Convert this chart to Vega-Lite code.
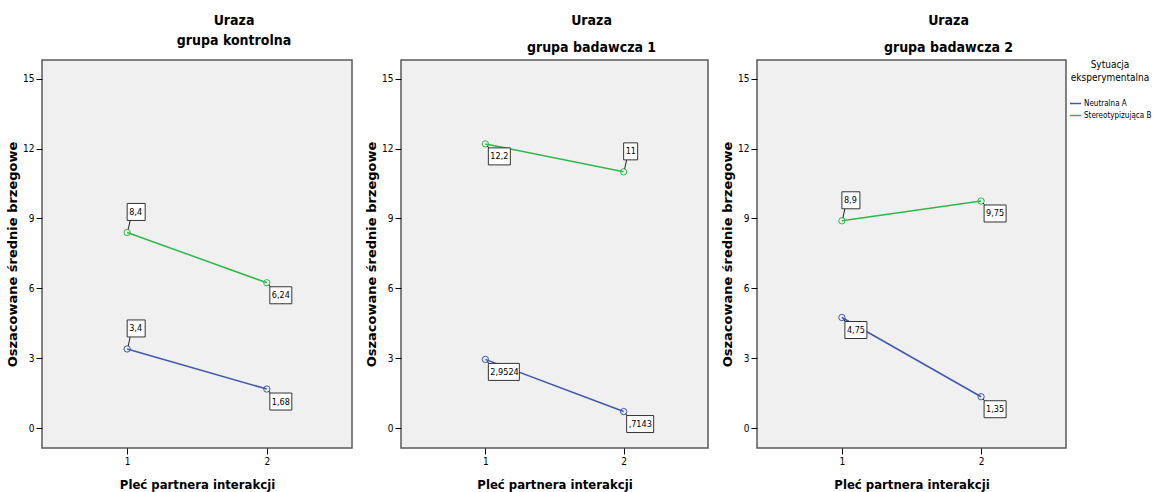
{
  "$schema": "https://vega.github.io/schema/vega-lite/v6.json",
  "padding": {"left": 5, "top": 13, "right": 0, "bottom": 0},
  "background": "white",
  "spacing": 11,
  "datasets": {
    "d": [
      {"grupa": "grupa kontrolna", "sytuacja": "Neutralna A", "plec": 1, "wartosc": 3.4, "etykieta": "3,4", "strona": "above"},
      {"grupa": "grupa kontrolna", "sytuacja": "Neutralna A", "plec": 2, "wartosc": 1.68, "etykieta": "1,68", "strona": "below"},
      {"grupa": "grupa kontrolna", "sytuacja": "Stereotypizująca B", "plec": 1, "wartosc": 8.4, "etykieta": "8,4", "strona": "above"},
      {"grupa": "grupa kontrolna", "sytuacja": "Stereotypizująca B", "plec": 2, "wartosc": 6.24, "etykieta": "6,24", "strona": "below"},
      {"grupa": "grupa badawcza 1", "sytuacja": "Neutralna A", "plec": 1, "wartosc": 2.9524, "etykieta": "2,9524", "strona": "below"},
      {"grupa": "grupa badawcza 1", "sytuacja": "Neutralna A", "plec": 2, "wartosc": 0.7143, "etykieta": ",7143", "strona": "below"},
      {"grupa": "grupa badawcza 1", "sytuacja": "Stereotypizująca B", "plec": 1, "wartosc": 12.2, "etykieta": "12,2", "strona": "below"},
      {"grupa": "grupa badawcza 1", "sytuacja": "Stereotypizująca B", "plec": 2, "wartosc": 11, "etykieta": "11", "strona": "above"},
      {"grupa": "grupa badawcza 2", "sytuacja": "Neutralna A", "plec": 1, "wartosc": 4.75, "etykieta": "4,75", "strona": "below"},
      {"grupa": "grupa badawcza 2", "sytuacja": "Neutralna A", "plec": 2, "wartosc": 1.35, "etykieta": "1,35", "strona": "below"},
      {"grupa": "grupa badawcza 2", "sytuacja": "Stereotypizująca B", "plec": 1, "wartosc": 8.9, "etykieta": "8,9", "strona": "above"},
      {"grupa": "grupa badawcza 2", "sytuacja": "Stereotypizująca B", "plec": 2, "wartosc": 9.75, "etykieta": "9,75", "strona": "below"}
    ]
  },
  "config": {
    "font": "DejaVu Sans Condensed, Liberation Sans, sans-serif",
    "view": {"fill": "#f0f0f0", "stroke": "#5a5a5a", "strokeWidth": 1.5},
    "title": {"font": "DejaVu Sans Condensed, Liberation Sans, sans-serif", "fontSize": 14, "fontWeight": "bold", "color": "#000", "anchor": "middle", "dx": 37},
    "axis": {"domain": false, "grid": false, "tickColor": "#000", "tickSize": 6, "labelFont": "DejaVu Sans Condensed, Liberation Sans, sans-serif", "labelFontSize": 10, "labelColor": "#000", "labelPadding": 2, "titleColor": "#000"},
    "axisX": {"titleFont": "DejaVu Sans Condensed, Liberation Sans, sans-serif", "titleFontSize": 13, "titleFontWeight": "bold", "titlePadding": 12},
    "axisY": {"titleFont": "DejaVu Sans", "titleFontSize": 13, "titleFontWeight": "bold", "titlePadding": 3},
    "legend": {"orient": "right", "offset": 2, "titleFont": "DejaVu Sans Condensed, Liberation Sans, sans-serif", "titleFontSize": 10, "titleFontWeight": "normal", "titleColor": "#000", "titleAlign": "center", "titleAnchor": "middle", "titleLineHeight": 13, "labelFont": "DejaVu Sans Condensed, Liberation Sans, sans-serif", "labelFontSize": 8, "labelColor": "#000", "symbolType": "stroke", "symbolSize": 121, "symbolStrokeWidth": 1.5, "rowPadding": 1, "titlePadding": 14, "labelOffset": 2, "padding": 0}
  },
  "resolve": {"scale": {"color": "shared"}},
  "hconcat": [
    {
      "title": {"text": ["Uraza", "grupa kontrolna"], "lineHeight": 20, "offset": 12},
      "width": 310, "height": 388,
      "data": {"name": "d"},
      "transform": [{"filter": "datum.grupa == 'grupa kontrolna'"}],
      "encoding": {
        "x": {"field": "plec", "type": "quantitative", "scale": {"domain": [0.39, 2.61], "nice": false, "zero": false}, "axis": {"values": [1, 2], "format": "d", "title": "Pleć partnera interakcji"}},
        "y": {"field": "wartosc", "type": "quantitative", "scale": {"domain": [-0.85, 15.8], "nice": false, "zero": false}, "axis": {"values": [0, 3, 6, 9, 12, 15], "title": "Oszacowane średnie brzegowe"}}
      },
      "layer": [
        {"mark": {"type": "line", "strokeWidth": 1.5}, "encoding": {"color": {"field": "sytuacja", "type": "nominal", "scale": {"domain": ["Neutralna A", "Stereotypizująca B"], "range": ["#3e58ac", "#2eb848"]}, "legend": {"title": ["Sytuacja", "eksperymentalna"]}}}},
        {"mark": {"type": "point", "shape": "circle", "filled": false, "size": 40, "strokeWidth": 1, "opacity": 1}, "encoding": {"color": {"field": "sytuacja", "type": "nominal"}}},
        {"transform": [{"filter": "datum.strona == 'above'"}], "mark": {"type": "rule", "color": "#222", "strokeWidth": 1, "xOffset": 1, "yOffset": -3, "x2Offset": 3, "y2Offset": -12}, "encoding": {"x2": {"field": "plec"}, "y2": {"field": "wartosc"}}},
        {"transform": [{"filter": "datum.strona == 'below'"}], "mark": {"type": "rule", "color": "#222", "strokeWidth": 1, "xOffset": 2, "yOffset": 2, "x2Offset": 4, "y2Offset": 5}, "encoding": {"x2": {"field": "plec"}, "y2": {"field": "wartosc"}}},
        {"transform": [{"filter": "datum.strona == 'above' && length(datum.etykieta) == 2"}], "mark": {"type": "rect", "fill": "white", "stroke": "#333", "strokeWidth": 1, "xOffset": 0, "x2Offset": 14, "yOffset": -29, "y2Offset": -12}, "encoding": {"x2": {"field": "plec"}, "y2": {"field": "wartosc"}}},
        {"transform": [{"filter": "datum.strona == 'above' && length(datum.etykieta) == 3"}], "mark": {"type": "rect", "fill": "white", "stroke": "#333", "strokeWidth": 1, "xOffset": 0, "x2Offset": 18, "yOffset": -29, "y2Offset": -12}, "encoding": {"x2": {"field": "plec"}, "y2": {"field": "wartosc"}}},
        {"transform": [{"filter": "datum.strona == 'below' && length(datum.etykieta) == 4"}], "mark": {"type": "rect", "fill": "white", "stroke": "#333", "strokeWidth": 1, "xOffset": 3, "x2Offset": 25, "yOffset": 4, "y2Offset": 21}, "encoding": {"x2": {"field": "plec"}, "y2": {"field": "wartosc"}}},
        {"transform": [{"filter": "datum.strona == 'below' && length(datum.etykieta) == 5"}], "mark": {"type": "rect", "fill": "white", "stroke": "#333", "strokeWidth": 1, "xOffset": 3, "x2Offset": 30, "yOffset": 4, "y2Offset": 21}, "encoding": {"x2": {"field": "plec"}, "y2": {"field": "wartosc"}}},
        {"transform": [{"filter": "datum.strona == 'below' && length(datum.etykieta) == 6"}], "mark": {"type": "rect", "fill": "white", "stroke": "#333", "strokeWidth": 1, "xOffset": 3, "x2Offset": 34, "yOffset": 4, "y2Offset": 21}, "encoding": {"x2": {"field": "plec"}, "y2": {"field": "wartosc"}}},
        {"transform": [{"filter": "datum.strona == 'above'"}], "mark": {"type": "text", "align": "left", "baseline": "middle", "dx": 2, "dy": -20.5, "fontSize": 9, "color": "#000"}, "encoding": {"text": {"field": "etykieta"}}},
        {"transform": [{"filter": "datum.strona == 'below'"}], "mark": {"type": "text", "align": "left", "baseline": "middle", "dx": 5, "dy": 12.5, "fontSize": 9, "color": "#000"}, "encoding": {"text": {"field": "etykieta"}}}
      ]
    },
    {
      "title": {"text": ["Uraza", "grupa badawcza 1"], "lineHeight": 27, "offset": 5},
      "width": 307, "height": 388,
      "data": {"name": "d"},
      "transform": [{"filter": "datum.grupa == 'grupa badawcza 1'"}],
      "encoding": {
        "x": {"field": "plec", "type": "quantitative", "scale": {"domain": [0.39, 2.61], "nice": false, "zero": false}, "axis": {"values": [1, 2], "format": "d", "title": "Pleć partnera interakcji"}},
        "y": {"field": "wartosc", "type": "quantitative", "scale": {"domain": [-0.85, 15.8], "nice": false, "zero": false}, "axis": {"values": [0, 3, 6, 9, 12, 15], "title": "Oszacowane średnie brzegowe"}}
      },
      "layer": [
        {"mark": {"type": "line", "strokeWidth": 1.5}, "encoding": {"color": {"field": "sytuacja", "type": "nominal"}}},
        {"mark": {"type": "point", "shape": "circle", "filled": false, "size": 40, "strokeWidth": 1, "opacity": 1}, "encoding": {"color": {"field": "sytuacja", "type": "nominal"}}},
        {"transform": [{"filter": "datum.strona == 'above'"}], "mark": {"type": "rule", "color": "#222", "strokeWidth": 1, "xOffset": 1, "yOffset": -3, "x2Offset": 3, "y2Offset": -12}, "encoding": {"x2": {"field": "plec"}, "y2": {"field": "wartosc"}}},
        {"transform": [{"filter": "datum.strona == 'below'"}], "mark": {"type": "rule", "color": "#222", "strokeWidth": 1, "xOffset": 2, "yOffset": 2, "x2Offset": 4, "y2Offset": 5}, "encoding": {"x2": {"field": "plec"}, "y2": {"field": "wartosc"}}},
        {"transform": [{"filter": "datum.strona == 'above' && length(datum.etykieta) == 2"}], "mark": {"type": "rect", "fill": "white", "stroke": "#333", "strokeWidth": 1, "xOffset": 0, "x2Offset": 14, "yOffset": -29, "y2Offset": -12}, "encoding": {"x2": {"field": "plec"}, "y2": {"field": "wartosc"}}},
        {"transform": [{"filter": "datum.strona == 'above' && length(datum.etykieta) == 3"}], "mark": {"type": "rect", "fill": "white", "stroke": "#333", "strokeWidth": 1, "xOffset": 0, "x2Offset": 18, "yOffset": -29, "y2Offset": -12}, "encoding": {"x2": {"field": "plec"}, "y2": {"field": "wartosc"}}},
        {"transform": [{"filter": "datum.strona == 'below' && length(datum.etykieta) == 4"}], "mark": {"type": "rect", "fill": "white", "stroke": "#333", "strokeWidth": 1, "xOffset": 3, "x2Offset": 25, "yOffset": 4, "y2Offset": 21}, "encoding": {"x2": {"field": "plec"}, "y2": {"field": "wartosc"}}},
        {"transform": [{"filter": "datum.strona == 'below' && length(datum.etykieta) == 5"}], "mark": {"type": "rect", "fill": "white", "stroke": "#333", "strokeWidth": 1, "xOffset": 3, "x2Offset": 30, "yOffset": 4, "y2Offset": 21}, "encoding": {"x2": {"field": "plec"}, "y2": {"field": "wartosc"}}},
        {"transform": [{"filter": "datum.strona == 'below' && length(datum.etykieta) == 6"}], "mark": {"type": "rect", "fill": "white", "stroke": "#333", "strokeWidth": 1, "xOffset": 3, "x2Offset": 34, "yOffset": 4, "y2Offset": 21}, "encoding": {"x2": {"field": "plec"}, "y2": {"field": "wartosc"}}},
        {"transform": [{"filter": "datum.strona == 'above'"}], "mark": {"type": "text", "align": "left", "baseline": "middle", "dx": 2, "dy": -20.5, "fontSize": 9, "color": "#000"}, "encoding": {"text": {"field": "etykieta"}}},
        {"transform": [{"filter": "datum.strona == 'below'"}], "mark": {"type": "text", "align": "left", "baseline": "middle", "dx": 5, "dy": 12.5, "fontSize": 9, "color": "#000"}, "encoding": {"text": {"field": "etykieta"}}}
      ]
    },
    {
      "title": {"text": ["Uraza", "grupa badawcza 2"], "lineHeight": 27, "offset": 5},
      "width": 309, "height": 388,
      "data": {"name": "d"},
      "transform": [{"filter": "datum.grupa == 'grupa badawcza 2'"}],
      "encoding": {
        "x": {"field": "plec", "type": "quantitative", "scale": {"domain": [0.39, 2.61], "nice": false, "zero": false}, "axis": {"values": [1, 2], "format": "d", "title": "Pleć partnera interakcji"}},
        "y": {"field": "wartosc", "type": "quantitative", "scale": {"domain": [-0.85, 15.8], "nice": false, "zero": false}, "axis": {"values": [0, 3, 6, 9, 12, 15], "title": "Oszacowane średnie brzegowe"}}
      },
      "layer": [
        {"mark": {"type": "line", "strokeWidth": 1.5}, "encoding": {"color": {"field": "sytuacja", "type": "nominal"}}},
        {"mark": {"type": "point", "shape": "circle", "filled": false, "size": 40, "strokeWidth": 1, "opacity": 1}, "encoding": {"color": {"field": "sytuacja", "type": "nominal"}}},
        {"transform": [{"filter": "datum.strona == 'above'"}], "mark": {"type": "rule", "color": "#222", "strokeWidth": 1, "xOffset": 1, "yOffset": -3, "x2Offset": 3, "y2Offset": -12}, "encoding": {"x2": {"field": "plec"}, "y2": {"field": "wartosc"}}},
        {"transform": [{"filter": "datum.strona == 'below'"}], "mark": {"type": "rule", "color": "#222", "strokeWidth": 1, "xOffset": 2, "yOffset": 2, "x2Offset": 4, "y2Offset": 5}, "encoding": {"x2": {"field": "plec"}, "y2": {"field": "wartosc"}}},
        {"transform": [{"filter": "datum.strona == 'above' && length(datum.etykieta) == 2"}], "mark": {"type": "rect", "fill": "white", "stroke": "#333", "strokeWidth": 1, "xOffset": 0, "x2Offset": 14, "yOffset": -29, "y2Offset": -12}, "encoding": {"x2": {"field": "plec"}, "y2": {"field": "wartosc"}}},
        {"transform": [{"filter": "datum.strona == 'above' && length(datum.etykieta) == 3"}], "mark": {"type": "rect", "fill": "white", "stroke": "#333", "strokeWidth": 1, "xOffset": 0, "x2Offset": 18, "yOffset": -29, "y2Offset": -12}, "encoding": {"x2": {"field": "plec"}, "y2": {"field": "wartosc"}}},
        {"transform": [{"filter": "datum.strona == 'below' && length(datum.etykieta) == 4"}], "mark": {"type": "rect", "fill": "white", "stroke": "#333", "strokeWidth": 1, "xOffset": 3, "x2Offset": 25, "yOffset": 4, "y2Offset": 21}, "encoding": {"x2": {"field": "plec"}, "y2": {"field": "wartosc"}}},
        {"transform": [{"filter": "datum.strona == 'below' && length(datum.etykieta) == 5"}], "mark": {"type": "rect", "fill": "white", "stroke": "#333", "strokeWidth": 1, "xOffset": 3, "x2Offset": 30, "yOffset": 4, "y2Offset": 21}, "encoding": {"x2": {"field": "plec"}, "y2": {"field": "wartosc"}}},
        {"transform": [{"filter": "datum.strona == 'below' && length(datum.etykieta) == 6"}], "mark": {"type": "rect", "fill": "white", "stroke": "#333", "strokeWidth": 1, "xOffset": 3, "x2Offset": 34, "yOffset": 4, "y2Offset": 21}, "encoding": {"x2": {"field": "plec"}, "y2": {"field": "wartosc"}}},
        {"transform": [{"filter": "datum.strona == 'above'"}], "mark": {"type": "text", "align": "left", "baseline": "middle", "dx": 2, "dy": -20.5, "fontSize": 9, "color": "#000"}, "encoding": {"text": {"field": "etykieta"}}},
        {"transform": [{"filter": "datum.strona == 'below'"}], "mark": {"type": "text", "align": "left", "baseline": "middle", "dx": 5, "dy": 12.5, "fontSize": 9, "color": "#000"}, "encoding": {"text": {"field": "etykieta"}}}
      ]
    }
  ]
}
